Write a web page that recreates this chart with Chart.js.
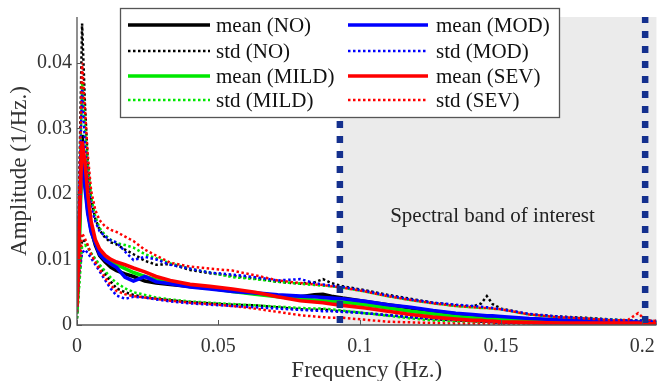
<!DOCTYPE html>
<html><head><meta charset="utf-8">
<script src="https://cdn.jsdelivr.net/npm/chart.js@4"></script>
<style>html,body{margin:0;padding:0;background:#fff;}</style>
</head><body>
<canvas id="c" width="665" height="381"></canvas>
<script>
// Frequency grid (Hz)
const freq = [0, 0.0008, 0.0018, 0.0028, 0.0038, 0.005, 0.0065, 0.008, 0.01, 0.012, 0.014, 0.017, 0.02, 0.024, 0.028, 0.033, 0.04, 0.047, 0.055, 0.063, 0.071, 0.079, 0.084, 0.087, 0.09, 0.094, 0.102, 0.11, 0.118, 0.126, 0.134, 0.14, 0.143, 0.145, 0.147, 0.15, 0.16, 0.17, 0.18, 0.19, 0.195, 0.1985, 0.201, 0.205];

// mean curves
const meanNO   = [0.003, 0.014, 0.029, 0.022, 0.0175, 0.0145, 0.0122, 0.0106, 0.0096, 0.0088, 0.0083, 0.0078, 0.0074, 0.0067, 0.0064, 0.0062, 0.0059, 0.0056, 0.0052, 0.0048, 0.0045, 0.0043, 0.0046, 0.0047, 0.0044, 0.0041, 0.0036, 0.0031, 0.0026, 0.0021, 0.0017, 0.0014, 0.0013, 0.0013, 0.0012, 0.0011, 0.0009, 0.0007, 0.0006, 0.0005, 0.0004, 0.0004, 0.0004, 0.0003];
const meanMILD = [0.002, 0.012, 0.027, 0.022, 0.018, 0.0148, 0.0126, 0.0111, 0.0102, 0.0096, 0.0092, 0.0086, 0.0080, 0.0074, 0.0069, 0.0064, 0.0060, 0.0056, 0.0051, 0.0047, 0.0043, 0.0040, 0.0038, 0.0037, 0.0036, 0.0035, 0.0031, 0.0026, 0.0021, 0.0017, 0.0013, 0.0011, 0.0010, 0.0010, 0.0009, 0.0009, 0.0007, 0.0005, 0.0004, 0.0003, 0.0003, 0.0003, 0.0003, 0.0002];
const meanMOD  = [0.004, 0.016, 0.028, 0.021, 0.017, 0.0142, 0.0125, 0.0108, 0.0099, 0.0093, 0.0088, 0.0073, 0.0067, 0.0074, 0.0066, 0.0063, 0.0058, 0.0055, 0.0051, 0.0049, 0.0046, 0.0044, 0.0043, 0.0042, 0.0041, 0.0040, 0.0036, 0.0031, 0.0027, 0.0022, 0.0018, 0.0016, 0.0015, 0.0014, 0.0014, 0.0013, 0.0010, 0.0008, 0.0006, 0.0005, 0.0005, 0.0004, 0.0004, 0.0003];
const meanSEV  = [0.003, 0.015, 0.028, 0.025, 0.020, 0.0158, 0.0130, 0.0116, 0.0106, 0.0100, 0.0096, 0.0092, 0.0087, 0.0081, 0.0074, 0.0068, 0.0062, 0.0059, 0.0055, 0.0050, 0.0043, 0.0037, 0.0035, 0.0034, 0.0032, 0.0030, 0.0026, 0.0021, 0.0016, 0.0012, 0.0009, 0.0007, 0.0007, 0.0006, 0.0006, 0.0005, 0.0004, 0.0003, 0.0003, 0.0003, 0.0003, 0.0003, 0.0002, 0.0002];

// mean + std
const upNO   = [0.004, 0.022, 0.046, 0.034, 0.025, 0.019, 0.0162, 0.0145, 0.0133, 0.0126, 0.0123, 0.0115, 0.0108, 0.0098, 0.0092, 0.0093, 0.0084, 0.0079, 0.0075, 0.0071, 0.0066, 0.0063, 0.0065, 0.0070, 0.0064, 0.0059, 0.0053, 0.0046, 0.0040, 0.0034, 0.0030, 0.0028, 0.0033, 0.0044, 0.0032, 0.0025, 0.0016, 0.0013, 0.0011, 0.0008, 0.0007, 0.0007, 0.0006, 0.0006];
const upMILD = [0.003, 0.018, 0.037, 0.030, 0.024, 0.0195, 0.0165, 0.0148, 0.0137, 0.0130, 0.0125, 0.0122, 0.0118, 0.0108, 0.0102, 0.0094, 0.0086, 0.0080, 0.0073, 0.0070, 0.0066, 0.0063, 0.0061, 0.0060, 0.0059, 0.0057, 0.0051, 0.0044, 0.0038, 0.0033, 0.0029, 0.0027, 0.0026, 0.0026, 0.0025, 0.0024, 0.0016, 0.0012, 0.0010, 0.0008, 0.0007, 0.0006, 0.0006, 0.0005];
const upMOD  = [0.005, 0.020, 0.036, 0.028, 0.022, 0.018, 0.0158, 0.0143, 0.0135, 0.0129, 0.0126, 0.0112, 0.0099, 0.0104, 0.0100, 0.0092, 0.0086, 0.0080, 0.0077, 0.0073, 0.0068, 0.0070, 0.0064, 0.0062, 0.0060, 0.0058, 0.0052, 0.0045, 0.0039, 0.0034, 0.0031, 0.0029, 0.0028, 0.0027, 0.0026, 0.0024, 0.0017, 0.0013, 0.0010, 0.0008, 0.0007, 0.0007, 0.0006, 0.0006];
const upSEV  = [0.004, 0.020, 0.040, 0.033, 0.026, 0.0205, 0.0175, 0.0160, 0.0150, 0.0145, 0.0142, 0.0135, 0.0128, 0.0115, 0.0106, 0.0095, 0.0089, 0.0086, 0.0083, 0.0076, 0.0068, 0.0064, 0.0062, 0.0061, 0.0059, 0.0057, 0.0051, 0.0044, 0.0038, 0.0033, 0.0029, 0.0027, 0.0026, 0.0026, 0.0025, 0.0024, 0.0016, 0.0012, 0.0010, 0.0007, 0.0008, 0.0018, 0.0008, 0.0006];

// mean - std
const loNO   = [0.001, 0.007, 0.013, 0.0128, 0.012, 0.0108, 0.0098, 0.0090, 0.0078, 0.0066, 0.0056, 0.0050, 0.0046, 0.0042, 0.0040, 0.0038, 0.0035, 0.0033, 0.0031, 0.0030, 0.0027, 0.0024, 0.0023, 0.0024, 0.0022, 0.0021, 0.0018, 0.0015, 0.0012, 0.0009, 0.0007, 0.0006, 0.0005, 0.0005, 0.0004, 0.0004, 0.0003, 0.0002, 0.0002, 0.0001, 0.0001, 0.0001, 0.0001, 0.0001];
const loMILD = [0.001, 0.006, 0.012, 0.0122, 0.0118, 0.0110, 0.0101, 0.0092, 0.0082, 0.0072, 0.0064, 0.0056, 0.0050, 0.0046, 0.0042, 0.0039, 0.0036, 0.0034, 0.0032, 0.0030, 0.0028, 0.0026, 0.0025, 0.0025, 0.0024, 0.0022, 0.0018, 0.0014, 0.0010, 0.0007, 0.0005, 0.0004, 0.0004, 0.0003, 0.0003, 0.0003, 0.0002, 0.0002, 0.0001, 0.0001, 0.0001, 0.0001, 0.0001, 0.0001];
const loMOD  = [0.002, 0.008, 0.011, 0.0115, 0.0110, 0.0102, 0.0092, 0.0082, 0.0068, 0.0055, 0.0045, 0.0040, 0.0043, 0.0042, 0.0039, 0.0036, 0.0033, 0.0031, 0.0029, 0.0027, 0.0025, 0.0023, 0.0022, 0.0021, 0.0021, 0.0020, 0.0018, 0.0015, 0.0012, 0.0010, 0.0008, 0.0007, 0.0006, 0.0005, 0.0005, 0.0004, 0.0003, 0.0002, 0.0002, 0.0002, 0.0001, 0.0001, 0.0001, 0.0001];
const loSEV  = [0.002, 0.008, 0.014, 0.0132, 0.0122, 0.0108, 0.0096, 0.0085, 0.0072, 0.0060, 0.0052, 0.0047, 0.0044, 0.0042, 0.0040, 0.0037, 0.0034, 0.0032, 0.0029, 0.0025, 0.0020, 0.0015, 0.0013, 0.0012, 0.0011, 0.0011, 0.0008, 0.0005, 0.0004, 0.0003, 0.0002, 0.0002, 0.0002, 0.0002, 0.0001, 0.0001, 0.0001, 0.0001, 0.0001, 0.0001, 0.0001, 0.0001, 0.0001, 0.0001];

const xTicks = [0, 0.05, 0.1, 0.15, 0.2];
const xTickLabels = ['0', '0.05', '0.1', '0.15', '0.2'];
const yTicks = [0, 0.01, 0.02, 0.03, 0.04];
const yTickLabels = ['0', '0.01', '0.02', '0.03', '0.04'];
const bandStart = 0.093, bandEnd = 0.201;
const bandLabel = 'Spectral band of interest';
const bandLabelPos = [0.147, 0.0166];
const xTitle = 'Frequency (Hz.)';
const yTitle = 'Amplitude (1/Hz.)';

const groups = [
  {name:'SEV',  color:'#ff0000', mean:meanSEV,  up:upSEV,  lo:loSEV},
  {name:'MOD',  color:'#0000ff', mean:meanMOD,  up:upMOD,  lo:loMOD},
  {name:'MILD', color:'#00e800', mean:meanMILD, up:upMILD, lo:loMILD},
  {name:'NO',   color:'#000000', mean:meanNO,   up:upNO,   lo:loNO}
];
// legend layout order (two columns)
const legendCols = [['NO','MILD'], ['MOD','SEV']];

const MEAN_W = 3.6, STD_W = 2.5, STD_DASH = [2.5, 2.5];
const pts = arr => freq.map((f,i)=>({x:f, y:arr[i]}));
const datasets = [];
groups.forEach(g=>{
  datasets.push({label:'mean ('+g.name+')', data:pts(g.mean), borderColor:g.color, borderWidth:MEAN_W, pointRadius:0, tension:0});
  datasets.push({label:'std ('+g.name+')', data:pts(g.up), borderColor:g.color, borderWidth:STD_W, borderDash:STD_DASH, pointRadius:0, tension:0});
  datasets.push({label:'std ('+g.name+')', data:pts(g.lo), borderColor:g.color, borderWidth:STD_W, borderDash:STD_DASH, pointRadius:0, tension:0});
});

const SERIF = '"Liberation Serif", "Times New Roman", serif';

const deco = {
  id:'deco',
  beforeDatasetsDraw(chart){
    const {ctx, chartArea:a, scales:{x}} = chart;
    ctx.save();
    ctx.fillStyle = '#ebebeb';
    const x0 = x.getPixelForValue(bandStart);
    ctx.fillRect(x0, a.top, a.right - x0, a.bottom - a.top);
    ctx.restore();
  },
  afterDatasetsDraw(chart){
    const {ctx, chartArea:a, scales:{x, y}} = chart;
    ctx.save();
    // band boundary lines
    ctx.strokeStyle = '#14308e';
    ctx.lineWidth = 6.5;
    ctx.setLineDash([7,8]);
    [bandStart, bandEnd].forEach(v=>{
      const px = x.getPixelForValue(v);
      ctx.beginPath(); ctx.moveTo(px, a.bottom - 2); ctx.lineTo(px, a.top); ctx.stroke();
    });
    ctx.setLineDash([]);
    // band label
    ctx.fillStyle = '#222';
    ctx.font = '21px ' + SERIF;
    ctx.textAlign = 'center'; ctx.textBaseline = 'middle';
    ctx.fillText(bandLabel, x.getPixelForValue(bandLabelPos[0]), y.getPixelForValue(bandLabelPos[1]));
    // axes
    ctx.strokeStyle = '#555'; ctx.lineWidth = 1.3;
    ctx.beginPath();
    ctx.moveTo(a.left, a.top); ctx.lineTo(a.left, a.bottom); ctx.lineTo(a.right, a.bottom);
    ctx.stroke();
    ctx.lineWidth = 1;
    xTicks.forEach(v=>{ const px = Math.round(x.getPixelForValue(v))+0.5; ctx.beginPath(); ctx.moveTo(px, a.bottom); ctx.lineTo(px, a.bottom-5); ctx.stroke(); });
    yTicks.forEach(v=>{ const py = Math.round(y.getPixelForValue(v))+0.5; ctx.beginPath(); ctx.moveTo(a.left, py); ctx.lineTo(a.left+5, py); ctx.stroke(); });
    // legend
    const L = {x:120, y:8, w:439, h:109};
    ctx.fillStyle = '#fff';
    ctx.fillRect(L.x, L.y, L.w, L.h);
    ctx.strokeStyle = '#555'; ctx.lineWidth = 1.3;
    ctx.strokeRect(L.x+0.5, L.y+0.5, L.w, L.h);
    const colX = [[128, 210, 216], [348, 428, 436]];
    const rowY = [25, 51, 76, 100];
    ctx.font = '21px ' + SERIF;
    ctx.textAlign = 'left'; ctx.textBaseline = 'middle';
    legendCols.forEach((names, ci)=>{
      names.forEach((n, k)=>{
        const g = groups.find(gg=>gg.name===n);
        ['mean','std'].forEach((kind, j)=>{
          const ry = rowY[k*2+j];
          ctx.strokeStyle = g.color;
          ctx.lineWidth = kind==='mean' ? MEAN_W : STD_W;
          ctx.setLineDash(kind==='mean' ? [] : STD_DASH);
          ctx.beginPath(); ctx.moveTo(colX[ci][0], ry); ctx.lineTo(colX[ci][1], ry); ctx.stroke();
          ctx.setLineDash([]);
          ctx.fillStyle = '#111';
          ctx.fillText(kind + ' (' + n + ')', colX[ci][2], ry + 1);
        });
      });
    });
    ctx.restore();
  }
};

new Chart(document.getElementById('c'), {
  type:'line',
  data:{datasets},
  options:{
    responsive:false, devicePixelRatio:1, animation:false,
    layout:{padding:{top:8, right:7, left:0, bottom:0}},
    plugins:{legend:{display:false}, tooltip:{enabled:false}},
    scales:{
      x:{type:'linear', min:0, max:0.205,
        afterBuildTicks: s => { s.ticks = xTicks.map(v=>({value:v})); },
        afterFit: s => { s.height = 56; },
        grid:{display:false, drawTicks:false}, border:{display:false},
        ticks:{font:{family:SERIF, size:20}, color:'#333', padding:10, maxRotation:0, autoSkip:false,
          callback:(v,i)=>xTickLabels[i]},
        title:{display:true, text:xTitle, font:{family:SERIF, size:23}, color:'#333', padding:{top:0, bottom:-4}}
      },
      y:{type:'linear', min:0, max:0.047,
        afterBuildTicks: s => { s.ticks = yTicks.map(v=>({value:v})); },
        afterFit: s => { s.width = 77; },
        grid:{display:false, drawTicks:false}, border:{display:false},
        ticks:{font:{family:SERIF, size:20}, color:'#333', padding:5, autoSkip:false,
          callback:(v,i)=>yTickLabels[i]},
        title:{display:true, text:yTitle, font:{family:SERIF, size:23}, color:'#333', padding:{top:6, bottom:0}}
      }
    }
  },
  plugins:[deco]
});
</script>
</body></html>
